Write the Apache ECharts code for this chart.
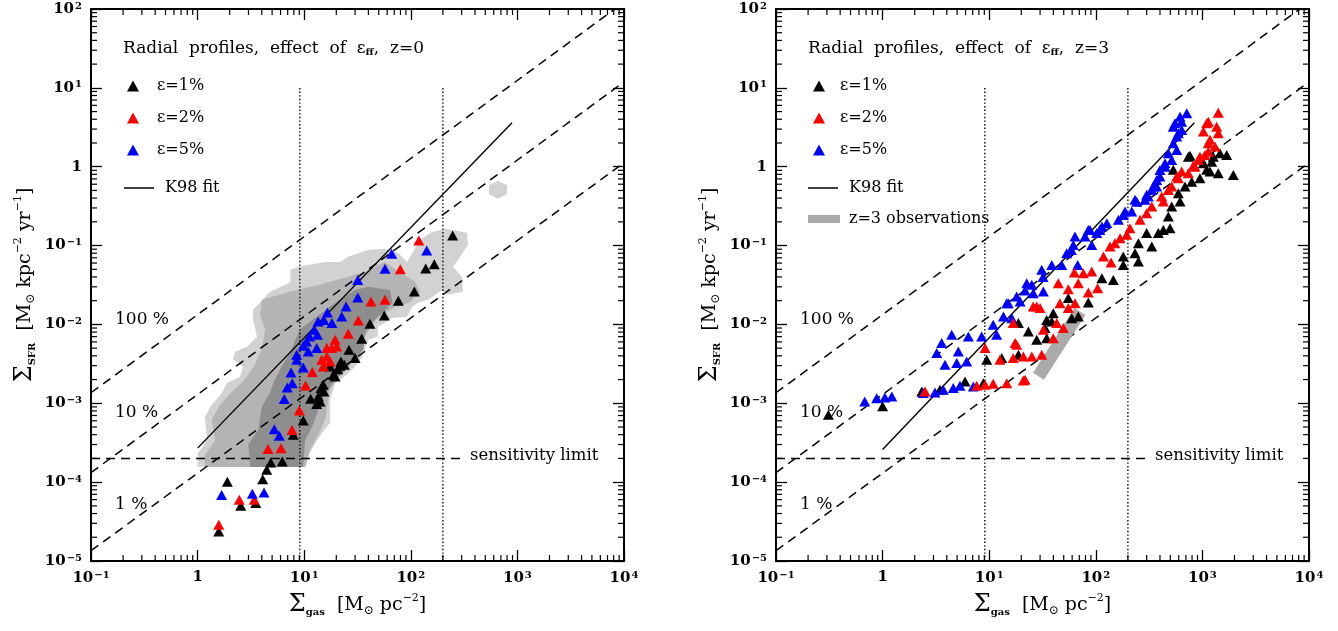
<!DOCTYPE html>
<html><head><meta charset="utf-8">
<script src="https://cdn.jsdelivr.net/npm/echarts@6/dist/echarts.min.js"></script>
<style>html,body{margin:0;padding:0;background:#fff}#c{width:1338px;height:631px}</style>
</head><body><div id="c"></div>
<script>
// ---------- axis ticks ----------
const xMajor = [0.1, 1, 10, 100, 1000, 10000];
const yMajor = [1e-5, 1e-4, 1e-3, 1e-2, 1e-1, 1, 10, 100];
const minorMult = [2, 3, 4, 5, 6, 7, 8, 9];

// ---------- left panel (z=0) ----------
const z0_eps1 = [[247,0.134],[138,0.0511],[166,0.0581],[108,0.0261],[76.4,0.0199],[56.4,0.013],[41.4,0.0102],[34.6,0.00657],[26.3,0.00477],[30.0,0.00374],[23.8,0.00308],[22.1,0.00339],[20.6,0.00271],[19.5,0.00219],[21.7,0.00299],[18.8,0.0023],[17.5,0.00293],[15.1,0.00172],[14.4,0.00156],[15.3,0.00141],[13.6,0.00122],[14.1,0.00105],[11.5,0.00114],[13.1,0.00098],[9.8,0.000605],[7.9,0.000399],[6.23,0.000183],[4.85,0.000178],[4.45,0.000144],[4.08,0.000109],[1.9,0.000101],[2.54,5.02e-5],[3.51,5.43e-5],[1.58,2.37e-5]];
const z0_eps2 = [[119,0.1157],[79.7,0.0502],[42.3,0.0195],[57.3,0.0205],[32.2,0.0112],[25.9,0.0076],[19.5,0.00638],[20.2,0.00525],[18.1,0.00501],[16.3,0.00501],[16.3,0.00392],[14.6,0.00356],[17.5,0.00339],[15.1,0.00293],[11.9,0.00249],[10.3,0.00168],[9.0,0.00081],[7.69,0.00046],[4.57,0.000263],[6.06,0.00027],[2.46,5.98e-5],[3.4,5.98e-5],[1.58,2.88e-5]];
const z0_eps5 = [[66.2,0.0785],[141,0.0864],[57.3,0.0507],[31.8,0.0367],[31.8,0.0219],[24.7,0.0169],[22.5,0.0126],[16.5,0.0142],[15.3,0.0114],[18.2,0.0104],[13.5,0.0109],[12.4,0.00855],[11.2,0.00703],[13.3,0.00738],[10.5,0.00607],[9.8,0.00536],[10.9,0.00454],[13.1,0.00501],[8.5,0.00412],[8.5,0.00356],[9.8,0.00284],[7.52,0.00246],[7.73,0.0018],[6.94,0.00159],[6.5,0.00113],[5.24,0.00047],[5.84,0.000387],[1.68,6.87e-5],[3.26,7.13e-5],[4.2,7.4e-5]];

// observed 2D histogram (three density levels), outlines
const cloudLight = [[7.4,0.049],[9.1,0.055],[11.3,0.057],[15.7,0.062],[21.7,0.062],[25.8,0.072],[39.7,0.088],[57,0.091],[76,0.081],[92,0.062],[122,0.118],[158,0.149],[209,0.163],[337,0.145],[344,0.102],[277,0.066],[249,0.054],[302,0.040],[309,0.026],[223,0.024],[196,0.027],[145,0.0205],[117,0.0188],[103,0.0167],[92,0.0125],[67,0.0121],[49,0.0093],[49,0.0070],[40,0.0064],[35,0.0039],[30,0.0029],[24,0.0022],[19.5,0.0018],[17.5,0.0011],[17.5,0.00057],[14.7,0.00042],[13.2,0.00034],[11.3,0.000235],[10.2,0.000156],[1.0,0.000156],[1.0,0.000235],[1.12,0.00028],[1.22,0.00038],[1.17,0.00067],[1.31,0.0009],[1.69,0.00136],[1.89,0.00182],[2.5,0.00217],[2.67,0.0029],[2.15,0.0036],[2.24,0.0045],[2.91,0.0052],[3.61,0.0070],[3.31,0.0114],[3.31,0.0153],[4.78,0.026],[7.4,0.034]];
const cloudMid = [[4.0,0.0205],[7.4,0.026],[14.1,0.032],[24,0.039],[41,0.049],[57,0.062],[79,0.046],[109,0.035],[122,0.026],[98,0.019],[71,0.0167],[49,0.0121],[41,0.0086],[33,0.0055],[27,0.0034],[22,0.0023],[17.5,0.0015],[15.7,0.00062],[13.5,0.0004],[11.3,0.00026],[10.2,0.000156],[1.17,0.000156],[1.17,0.00022],[1.46,0.00034],[1.36,0.00062],[1.62,0.00096],[2.1,0.0014],[2.78,0.002],[3.45,0.0031],[4.0,0.0048],[4.3,0.0086],[3.85,0.0132]];
const cloudDark = [[9.1,0.0086],[12.6,0.0121],[19.5,0.0188],[30,0.0274],[40,0.030],[64,0.0274],[67,0.0188],[54,0.014],[43,0.0105],[37,0.0078],[36,0.0048],[28,0.0033],[23,0.0024],[19.5,0.002],[15.7,0.0013],[13.5,0.00083],[12.1,0.00053],[10.2,0.00034],[9.75,0.000156],[3.1,0.000156],[3.0,0.0003],[3.7,0.00046],[4.0,0.0009],[4.8,0.0014],[5.3,0.002],[6.3,0.0031],[7.4,0.0044]];
const cloudSpots = [[658,0.51]];

// ---------- right panel (z=3) ----------
const z3_eps1 = [[0.31,0.000714],[1.0,0.00092],[2.33,0.00141],[3.45,0.00148],[5.93,0.00189],[8.8,0.0018],[9.48,0.00356],[13.1,0.00374],[18.8,0.00412],[18.8,0.0104],[23.3,0.00813],[27.9,0.00638],[34.6,0.0067],[33.4,0.00898],[38.6,0.0109],[59.4,0.012],[68.5,0.0126],[85.1,0.019],[55.2,0.0216],[39.9,0.0139],[34.6,0.0114],[114,0.0386],[146,0.0367],[181,0.0726],[181,0.0569],[233,0.0801],[251,0.0627],[251,0.107],[335,0.097],[300,0.144],[386,0.144],[430,0.158],[497,0.166],[479,0.233],[515,0.312],[617,0.361],[594,0.461],[687,0.56],[794,0.647],[948,0.715],[1096,0.912],[533,0.912],[738,1.34],[985,1.22],[1222,1.16],[765,1.38],[1019,1.11],[1265,1.34],[1462,1.48],[1690,1.41],[1950,0.787],[1409,0.828],[1178,0.867]];
const z3_eps2 = [[2.5,0.00141],[7.63,0.00167],[9.14,0.00172],[10.9,0.00177],[14.6,0.0018],[20.9,0.00195],[21.7,0.00199],[9.14,0.00501],[12.6,0.00356],[16.8,0.00374],[20.9,0.00392],[25.1,0.00392],[31.1,0.00412],[17.5,0.0058],[18.1,0.00551],[25.9,0.0169],[27.9,0.0169],[16.8,0.0104],[32.2,0.00855],[39.9,0.0067],[43,0.0104],[49.6,0.00898],[46.1,0.0186],[55.2,0.0161],[63.8,0.0186],[30,0.0161],[44.5,0.0334],[55.2,0.028],[68.5,0.0334],[85.1,0.0254],[104,0.0288],[62.9,0.0455],[76.4,0.0447],[91.6,0.0468],[118,0.0726],[139,0.061],[136,0.097],[151,0.107],[169,0.124],[195,0.137],[209,0.166],[260,0.212],[300,0.257],[335,0.312],[415,0.418],[430,0.361],[479,0.508],[515,0.56],[594,0.715],[639,0.867],[738,0.828],[853,1.0],[916,1.22],[1057,1.41],[1136,1.99],[1096,3.56],[1409,4.85],[1136,3.73],[1361,3.22],[1409,2.66],[1178,2.19],[1312,1.8],[1136,1.55],[948,1.34],[822,1.03],[574,0.75],[1021,2.79]];
const z3_eps5 = [[0.68,0.00105],[0.88,0.00116],[1.05,0.00118],[1.22,0.00122],[2.41,0.00135],[3.1,0.00137],[3.71,0.00148],[4.6,0.00156],[5.32,0.00167],[7.1,0.00163],[3.85,0.00308],[4.96,0.00324],[6.15,0.00339],[3.22,0.00433],[5.13,0.00454],[3.58,0.0058],[4.45,0.00738],[6.37,0.00703],[8.5,0.00703],[11.75,0.00738],[10.9,0.00989],[13.6,0.0126],[16.3,0.012],[15.1,0.0186],[19.5,0.0195],[22.5,0.0334],[25.1,0.0318],[25.9,0.0249],[31.1,0.0492],[32.2,0.0261],[38.6,0.0569],[47.9,0.0569],[53.3,0.0801],[61.5,0.102],[63.8,0.13],[67.6,0.0569],[79.2,0.13],[88.3,0.158],[91.6,0.102],[102,0.144],[114,0.174],[127,0.192],[163,0.212],[181,0.245],[217,0.27],[233,0.38],[311,0.418],[335,0.508],[373,0.56],[400,0.75],[446,1.0],[515,1.22],[479,1.48],[574,1.63],[533,1.99],[594,2.66],[553,3.56],[639,3.73],[713,4.77],[617,4.31],[533,3.22],[640,2.93],[574,2.41],[446,1.11],[400,0.91],[373,0.68],[346,0.56],[300,0.44],[289,0.38],[242,0.36],[188,0.27],[109,0.158],[85,0.158],[59,0.088],[32,0.040],[21.7,0.027],[18.1,0.0226],[14.6,0.0186]];
const z3obs = [[29,0.0022],[71,0.0146]];

// ---------- reference lines ----------
const eff100 = [[0.1,0.00136],[8200,100]];
const eff10 = [[0.1,0.000132],[10000,11.9]];
const eff1 = [[0.1,0.0000135],[10000,1.12]];
const k98Left = [[1,0.00027],[890,3.6]];
const k98Right = [[1,0.00026],[840,3.6]];
const sensLimit = [[0.1,0.0002],[320,0.0002]];
const dotLow = [[9.1,0.00001],[9.1,10]];
const dotHigh = [[200,0.00001],[200,10]];

const FONT = 'DejaVu Serif';
function powLabel(v){
  const e = Math.round(Math.log10(v));
  if (e === 0) return '{b|1}';
  return '{b|10}{s|' + (e < 0 ? '−' : '') + Math.abs(e) + '}';
}
const tickRich = {
  b: {fontSize: 15, fontWeight: 'bold', fontFamily: FONT, color: '#000'},
  s: {fontSize: 10, fontWeight: 'bold', fontFamily: FONT, color: '#000', verticalAlign: 'top', padding: [0,0,6,1]}
};
const nameRich = {
  S: {fontSize: 24, fontFamily: FONT, color: '#000'},
  t: {fontSize: 19, fontFamily: FONT, color: '#000'},
  sub: {fontSize: 10, fontFamily: FONT, fontWeight: 'bold', color: '#000', verticalAlign: 'bottom'},
  sun: {fontSize: 12, fontFamily: FONT, color: '#000', verticalAlign: 'bottom'},
  sup: {fontSize: 11, fontFamily: FONT, color: '#000', verticalAlign: 'top', padding: [0,0,8,0]}
};
const xName = '{S|Σ}{sub|gas}{t|  [M}{sun|⊙}{t| pc}{sup|−2}{t|]}';
const yName = '{S|Σ}{sub|SFR}{t|  [M}{sun|⊙}{t| kpc}{sup|−2}{t| yr}{sup|−1}{t|]}';

const grids = [
  {left: 91, top: 9, width: 533, height: 552, outerBoundsMode: 'none'},
  {left: 776, top: 9, width: 533, height: 552, outerBoundsMode: 'none'}
];

const lineAx = {lineStyle: {color: '#000', width: 2}};
const tickAx = {inside: true, length: 11, lineStyle: {color: '#000', width: 1.3}};
const xAxes = [], yAxes = [];
[0, 1].forEach(g => {
  xAxes.push({gridIndex: g, type: 'log', logBase: 10, min: 0.1, max: 10000, splitNumber: 5, position: 'bottom',
    axisLine: lineAx, axisTick: tickAx, splitLine: {show: false},
    axisLabel: {formatter: powLabel, margin: 9, rich: tickRich},
    name: xName, nameLocation: 'middle', nameGap: 32, nameTextStyle: {rich: nameRich, fontFamily: FONT}});
  xAxes.push({gridIndex: g, type: 'log', logBase: 10, min: 0.1, max: 10000, splitNumber: 5, position: 'top',
    axisLine: lineAx, axisTick: tickAx, splitLine: {show: false}, axisLabel: {show: false}});
  yAxes.push({gridIndex: g, type: 'log', logBase: 10, min: 1e-5, max: 100, splitNumber: 7, position: 'left',
    axisLine: lineAx, axisTick: tickAx, splitLine: {show: false},
    axisLabel: {formatter: powLabel, margin: 9, rich: tickRich},
    name: yName, nameLocation: 'middle', nameGap: 54, nameRotate: 90, nameTextStyle: {rich: nameRich, fontFamily: FONT}});
  yAxes.push({gridIndex: g, type: 'log', logBase: 10, min: 1e-5, max: 100, splitNumber: 7, position: 'right',
    axisLine: lineAx, axisTick: tickAx, splitLine: {show: false}, axisLabel: {show: false}});
});

const minorX = [], minorY = [];
xMajor.slice(0, -1).forEach(d => minorMult.forEach(m => minorX.push([d * m, 1e-5])));
yMajor.slice(0, -1).forEach(d => minorMult.forEach(m => minorY.push([0.1, d * m])));

function minorTickSeries(g) {
  const ax = {xAxisIndex: g * 2, yAxisIndex: g * 2};
  const st = {stroke: '#000', lineWidth: 1.2};
  return [
    Object.assign({type: 'custom', silent: true, z: 5, data: minorX, renderItem: (p, api) => {
      const v = api.value(0);
      const b = api.coord([v, 1e-5]), t = api.coord([v, 100]);
      return {type: 'group', children: [
        {type: 'line', shape: {x1: b[0], y1: b[1], x2: b[0], y2: b[1] - 6}, style: st},
        {type: 'line', shape: {x1: t[0], y1: t[1], x2: t[0], y2: t[1] + 6}, style: st}]};
    }}, ax),
    Object.assign({type: 'custom', silent: true, z: 5, data: minorY, renderItem: (p, api) => {
      const v = api.value(1);
      const l = api.coord([0.1, v]), r = api.coord([10000, v]);
      return {type: 'group', children: [
        {type: 'line', shape: {x1: l[0], y1: l[1], x2: l[0] + 6, y2: l[1]}, style: st},
        {type: 'line', shape: {x1: r[0], y1: r[1], x2: r[0] - 6, y2: r[1]}, style: st}]};
    }}, ax)
  ];
}
function polySeries(pts, color) {
  return {type: 'custom', xAxisIndex: 0, yAxisIndex: 0, silent: true, z: 1, data: pts,
    renderItem: (p, api) => {
      if (p.dataIndex !== 0) return;
      return {type: 'polygon', shape: {points: pts.map(q => api.coord(q))}, style: {fill: color}};
    }};
}
function lineS(name, pts, g, style, z) {
  return {type: 'line', name: name, xAxisIndex: g * 2, yAxisIndex: g * 2, data: pts, symbol: 'none',
    silent: true, z: z || 2, lineStyle: style, itemStyle: {color: style.color, opacity: 1}, color: style.color};
}
function triS(name, pts, g, color) {
  return {type: 'scatter', name: name, xAxisIndex: g * 2, yAxisIndex: g * 2, data: pts, symbol: 'triangle',
    symbolSize: [11, 10], itemStyle: {color: color, opacity: 1}, color: color, silent: true, z: 4};
}
const dash = {color: '#000', width: 1.5, type: [9, 6]};
const dot = {color: '#000', width: 1.4, type: [1.4, 2.2]};
const solid = {color: '#000', width: 1.4, type: 'solid'};

const series = [
  polySeries(cloudLight, '#d2d2d2'),
  polySeries(cloudMid, '#b4b4b4'),
  polySeries(cloudDark, '#8e8e8e'),
  {type: 'scatter', xAxisIndex: 0, yAxisIndex: 0, data: cloudSpots, silent: true, z: 1,
   symbol: 'path://M0,-10 L8.66,-5 L8.66,5 L0,10 L-8.66,5 L-8.66,-5 Z', symbolSize: 18, itemStyle: {color: '#d2d2d2', opacity: 1}}
];
[0, 1].forEach(g => {
  series.push(lineS('eff100_' + g, eff100, g, dash));
  series.push(lineS('eff10_' + g, eff10, g, dash));
  series.push(lineS('eff1_' + g, eff1, g, dash));
  series.push(lineS('sens_' + g, sensLimit, g, dash));
  series.push(lineS('dotA_' + g, dotLow, g, dot));
  series.push(lineS('dotB_' + g, dotHigh, g, dot));
  series.push(lineS('K98 fit', g === 0 ? k98Left : k98Right, g, solid, 3));
  minorTickSeries(g).forEach(s => series.push(s));
});
series.push(lineS('z=3 observations', z3obs, 1, {color: '#aaaaaa', width: 13, type: 'solid', cap: 'butt'}, 2));
series.push(triS('ε=1%', z0_eps1, 0, '#000000'));
series.push(triS('ε=2%', z0_eps2, 0, '#ff0000'));
series.push(triS('ε=5%', z0_eps5, 0, '#0000ff'));
series.push(triS('ε=1%', z3_eps1, 1, '#000000'));
series.push(triS('ε=5%', z3_eps5, 1, '#0000ff'));
series.push(triS('ε=2%', z3_eps2, 1, '#ff0000'));

const legTxt = {fontFamily: FONT, fontSize: 16, color: '#000'};
function legTri(left, pad) {
  return {left: left, top: 78, padding: 0, orient: 'vertical', itemWidth: 12, itemHeight: 11, itemGap: 16, selectedMode: false,
    data: ['ε=1%', 'ε=2%', 'ε=5%'], itemStyle: {opacity: 1}, textStyle: Object.assign({padding: [0, 0, 0, pad]}, legTxt)};
}
function legLine(left, top, name, w, h, pad) {
  return {left: left, top: top, padding: 0, orient: 'vertical', itemWidth: w, itemHeight: h, selectedMode: false,
    itemStyle: {borderWidth: 0, opacity: 1}, data: [{name: name, icon: 'rect'}], textStyle: Object.assign({padding: [0, 0, 0, pad]}, legTxt)};
}
const legends = [
  legTri(127, 13), legLine(124, 180, 'K98 fit', 30, 1.5, 6),
  legTri(813, 10), legLine(808, 180, 'K98 fit', 30, 1.5, 6), legLine(808, 211, 'z=3 observations', 32, 8, 4)
];

const titleRich = {s: {fontSize: 10, fontFamily: FONT, fontWeight: 'bold', color: '#000', verticalAlign: 'bottom'}};
const titles = [
  {text: 'Radial  profiles,  effect  of  ε{s|ff},  z=0', left: 123, top: 40, padding: 0,
   textStyle: {fontFamily: FONT, fontSize: 17, fontWeight: 'normal', color: '#000', rich: titleRich}},
  {text: 'Radial  profiles,  effect  of  ε{s|ff},  z=3', left: 808, top: 40, padding: 0,
   textStyle: {fontFamily: FONT, fontSize: 17, fontWeight: 'normal', color: '#000', rich: titleRich}}
];

function txt(x, y, s, size) {
  return {type: 'text', x: x, y: y, silent: true, z: 10,
    style: {text: s, fontFamily: FONT, fontSize: size, fill: '#000', verticalAlign: 'middle', align: 'left'}};
}
const graphics = [];
[[0, 115], [1, 800]].forEach(([g, x0]) => {
  graphics.push(txt(x0, 320, '100 %', 17));
  graphics.push(txt(x0, 413, '10 %', 17));
  graphics.push(txt(x0, 505, '1 %', 17));
});
graphics.push(txt(470, 456, 'sensitivity limit', 16.5));
graphics.push(txt(1155, 456, 'sensitivity limit', 16.5));

const chart = echarts.init(document.getElementById('c'), null, {renderer: 'canvas'});
chart.setOption({
  animation: false,
  backgroundColor: '#fff',
  title: titles,
  legend: legends,
  grid: grids,
  xAxis: xAxes,
  yAxis: yAxes,
  series: series,
  graphic: graphics
});
</script>
</body></html>
